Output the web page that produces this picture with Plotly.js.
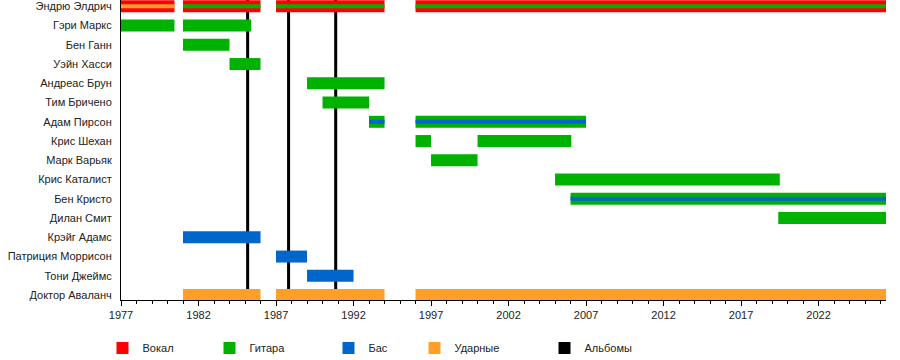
<!DOCTYPE html>
<html>
<head>
<meta charset="utf-8">
<script src="https://cdn.plot.ly/plotly-3.0.1.min.js"></script>
<style>html,body{margin:0;padding:0;background:#fff}#chart{width:900px;height:360px}</style>
</head>
<body>
<div id="chart"></div>
<script>
// ---------- DATA ----------
const members = ['Эндрю Элдрич','Гэри Маркс','Бен Ганн','Уэйн Хасси','Андреас Брун','Тим Бричено','Адам Пирсон','Крис Шехан','Марк Варьяк','Крис Каталист','Бен Кристо','Дилан Смит','Крэйг Адамс','Патриция Моррисон','Тони Джеймс','Доктор Аваланч'];
const END = 2026.35;

// main bars
const vocalWho   = ['Эндрю Элдрич','Эндрю Элдрич','Эндрю Элдрич','Эндрю Элдрич'];
const vocalStart = [1977, 1981, 1987, 1996];
const vocalEnd   = [1980.45, 1986, 1994, END];

const guitarWho   = ['Гэри Маркс','Гэри Маркс','Бен Ганн','Уэйн Хасси','Андреас Брун','Тим Бричено','Адам Пирсон','Адам Пирсон','Крис Шехан','Крис Шехан','Марк Варьяк','Крис Каталист','Бен Кристо','Дилан Смит'];
const guitarStart = [1977, 1981, 1981, 1984, 1989, 1990, 1993, 1996, 1996, 2000, 1997, 2005, 2006, 2019.4];
const guitarEnd   = [1980.45, 1985.4, 1984, 1986, 1994, 1993, 1994, 2007, 1997, 2006.05, 2000, 2019.5, END, END];

const bassWho   = ['Крэйг Адамс','Патриция Моррисон','Тони Джеймс'];
const bassStart = [1981, 1987, 1989];
const bassEnd   = [1986, 1989, 1992];

const drumWho   = ['Доктор Аваланч','Доктор Аваланч','Доктор Аваланч'];
const drumStart = [1981, 1987, 1996];
const drumEnd   = [1986, 1994, END];

// secondary (stripe) roles
const drumStripeWho   = ['Эндрю Элдрич'];
const drumStripeStart = [1977];
const drumStripeEnd   = [1980.45];

const guitarStripeWho   = ['Эндрю Элдрич','Эндрю Элдрич','Эндрю Элдрич'];
const guitarStripeStart = [1981, 1987, 1996];
const guitarStripeEnd   = [1986, 1994, END];

const bassStripeWho   = ['Адам Пирсон','Адам Пирсон','Бен Кристо'];
const bassStripeStart = [1993, 1996, 2006];
const bassStripeEnd   = [1994, 2007, END];

const albums = [1985.17, 1987.81, 1990.85];

const roleNames = ['Вокал','Гитара','Бас','Ударные','Альбомы'];
const roleColors = ['#ff0000','#00b200','#0066cc','#ff9f26','#000000'];

// ---------- TRACES ----------
const BAR_W = 0.623, STRIPE_W = 0.208, ALBUM_W = 0.194;
function barTrace(who, s, e, color, width, name, legend, showlegend){
  return {
    type:'bar', orientation:'h', xaxis:'x', yaxis:'y2',
    y: who, base: s, x: s.map((v,i)=>e[i]-v),
    width: who.map(()=>width),
    marker:{color:color, line:{width:0}},
    name: name, legend: legend, showlegend: showlegend,
    hoverinfo:'skip'
  };
}

const traces = [
  // album markers: full-height thin vertical bars on the base (numeric 0..1) axis, beneath member bars
  {type:'bar', orientation:'v', xaxis:'x', yaxis:'y',
   x: albums, y: albums.map(()=>1), base: albums.map(()=>0), width: albums.map(()=>ALBUM_W),
   marker:{color:roleColors[4], line:{width:0}}, name:roleNames[4], legend:'legend5',
   showlegend:true, hoverinfo:'skip'},
  barTrace(vocalWho, vocalStart, vocalEnd, roleColors[0], BAR_W, roleNames[0], 'legend', true),
  barTrace(guitarWho, guitarStart, guitarEnd, roleColors[1], BAR_W, roleNames[1], 'legend2', true),
  barTrace(bassWho, bassStart, bassEnd, roleColors[2], BAR_W, roleNames[2], 'legend3', true),
  barTrace(drumWho, drumStart, drumEnd, roleColors[3], BAR_W, roleNames[3], 'legend4', true),
  barTrace(drumStripeWho, drumStripeStart, drumStripeEnd, roleColors[3], STRIPE_W, roleNames[3], 'legend4', false),
  barTrace(guitarStripeWho, guitarStripeStart, guitarStripeEnd, roleColors[1], STRIPE_W, roleNames[1], 'legend2', false),
  barTrace(bassStripeWho, bassStripeStart, bassStripeEnd, roleColors[2], STRIPE_W, roleNames[2], 'legend3', false)
];

// ---------- LAYOUT ----------
const L = 121, R = 14, W = 900 - L - R;
const yRange = [15.257, -0.327];
const font = {family:'"Liberation Sans", Arial, sans-serif', size:11, color:'#222'};
function leg(px){
  return {x:(px - 15.5 - L)/W, xanchor:'left', y:-0.16, yanchor:'middle', orientation:'h',
          bgcolor:'rgba(0,0,0,0)', borderwidth:0, font:font, itemclick:false, itemdoubleclick:false};
}
const layout = {
  width:900, height:360,
  margin:{l:L, r:R, t:0, b:60, pad:0, autoexpand:false},
  paper_bgcolor:'#fff', plot_bgcolor:'#fff',
  font:font,
  barmode:'overlay',
  xaxis:{range:[1977, END], tick0:1977, dtick:5, ticks:'outside', ticklen:5, tickwidth:1, tickcolor:'#000',
         showline:true, linecolor:'#000', linewidth:1, showgrid:false, zeroline:false,
         minor:{dtick:1, ticks:'outside', ticklen:3, tickwidth:1, tickcolor:'#000', showgrid:false},
         tickfont:font, fixedrange:true},
  yaxis:{range:[0,1], showline:false, showgrid:false, zeroline:false, showticklabels:false,
         ticks:'', fixedrange:true},
  yaxis2:{type:'category', categoryorder:'array', categoryarray:members, range:yRange,
          overlaying:'y', side:'left',
          showline:true, linecolor:'#000', linewidth:1, showgrid:false, zeroline:false,
          ticks:'', ticklabelstandoff:6, tickfont:font, fixedrange:true},
  legend:leg(118), legend2:leg(225), legend3:leg(344), legend4:leg(430), legend5:leg(560),
  showlegend:true
};

Plotly.newPlot('chart', traces, layout, {displayModeBar:false, staticPlot:true});
</script>
</body>
</html>
